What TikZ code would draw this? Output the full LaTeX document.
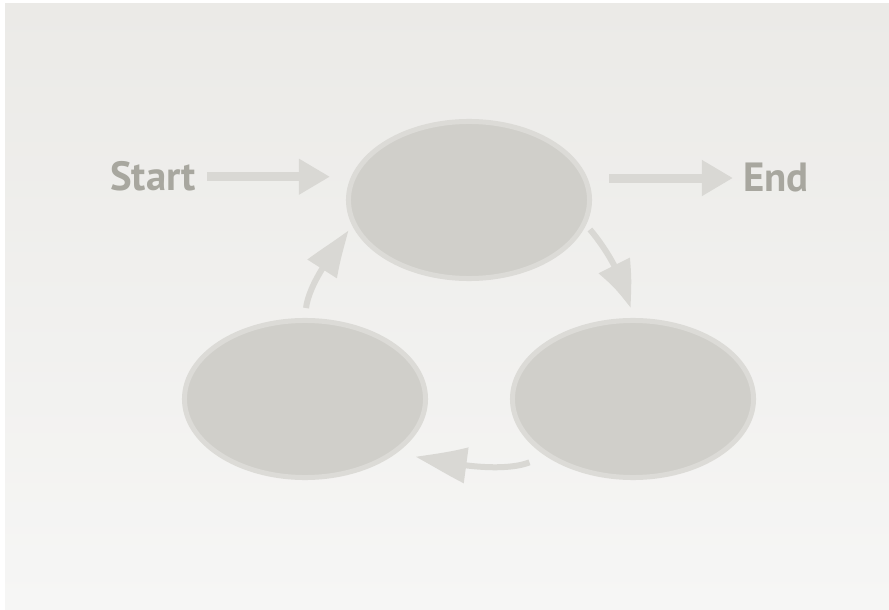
\documentclass[tikz,border=0pt]{standalone}
\usepackage{fontspec}
\setmainfont{PT Sans}
\usetikzlibrary{shapes.geometric,arrows.meta,bending}

\definecolor{stagefill}{HTML}{D0CFCA}
\definecolor{stagering}{HTML}{DCDBD7}
\definecolor{arrowgray}{HTML}{D9D8D4}
\definecolor{labelgray}{HTML}{A8A79F}
\definecolor{bgtop}{HTML}{EBEAE7}
\definecolor{bgbottom}{HTML}{F6F6F5}

\begin{document}
\begin{tikzpicture}[x=0.025cm, y=-0.025cm,
		stage/.style={ellipse, draw=stagering, line width=0.125cm, fill=stagefill, minimum width=6.025cm, minimum height=3.925cm, inner sep=0pt},
		tag/.style={text=labelgray, font=\fontsize{29}{34}\selectfont\bfseries, inner sep=0pt, anchor=base west},
		flow/.style={draw=arrowgray, line width=0.225cm, -{Triangle[length=0.78cm, width=0.85cm]}},
		loop/.style={draw=arrowgray, line width=0.15cm, -{Triangle[length=1.3cm, width=0.82cm, bend]}}]
				% page and soft background
				\fill[white] (0,0) rectangle (889,610);
				\shade[top color=bgtop, bottom color=bgbottom] (5,4) rectangle (889,609);
				% three stages of the cycle
				\node[stage] (top)at(469, 200) {};
				\node[stage] (left)at(305, 399) {};
				\node[stage] (right)at(633, 399) {};
				\node[tag] (start)at(110, 191) {Start};
				\node[tag] (end)at(743, 192) {End};
				% way in and way out
				\draw[flow, shorten <=0.275cm, shorten >=0.4cm] (start.east) -- (top.west |- start.east);
				\draw[flow, shorten <=0.425cm, shorten >=0.25cm] (top.east |- end.west) -- (end.west);
				% round the cycle
				\draw[loop, shorten <=0.15cm, shorten >=0.25cm] (top.-12) to[out=-50, in=104] (right.north);
				\draw[loop, -{Triangle[length=1.45cm, width=0.85cm, bend]}, shorten <=0.43cm, shorten >=0.5cm] (right.213) to[out=202, in=-8] (left.-31);
				\draw[loop, shorten <=0.25cm, shorten >=0.15cm] (left.north) to[out=84, in=238] (top.192);
			\end{tikzpicture}
\end{document}
